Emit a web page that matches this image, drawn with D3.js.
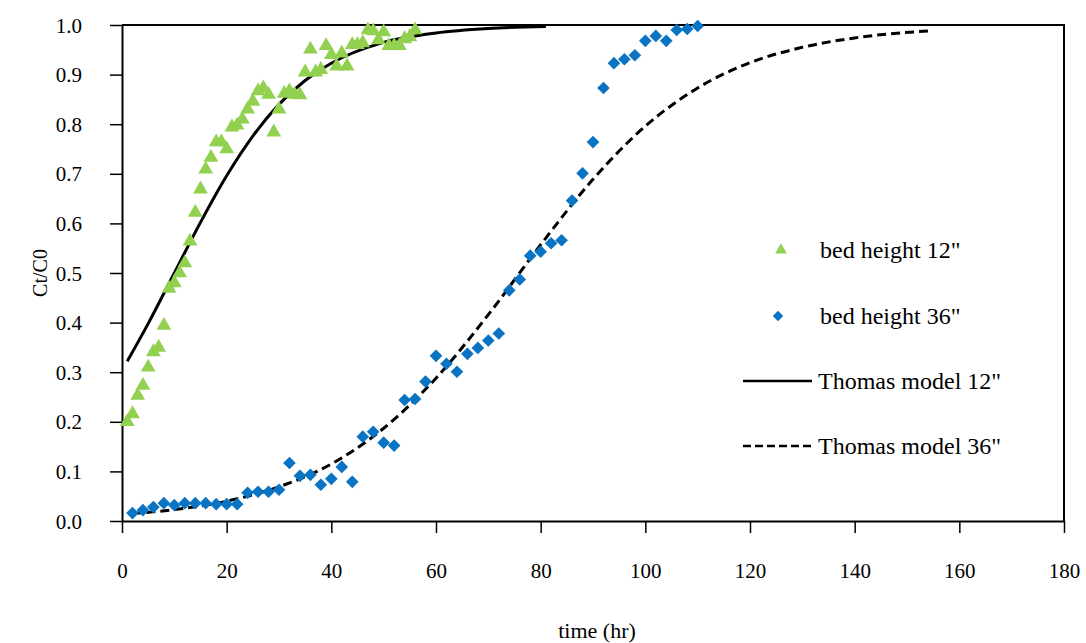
<!DOCTYPE html>
<html>
<head>
<meta charset="utf-8">
<script src="https://cdn.jsdelivr.net/npm/d3@7"></script>
<style>
  html, body { margin: 0; padding: 0; background: #fff; }
  svg { display: block; }
  text { font-family: "Liberation Serif", "Times New Roman", serif; fill: #000; }
</style>
</head>
<body>
<svg id="chart" width="1086" height="643"></svg>
<script>
// ---- Data ----
const time12 = [1,2,3,4,5,6,7,8,9,10,11,12,13,14,15,16,17,18,19,20,21,22,23,24,25,26,27,28,29,30,31,32,33,34,35,36,37,38,39,40,41,42,43,44,45,46,47,48,49,50,51,52,53,54,55,56];
const ratio12 = [0.20,0.216,0.253,0.273,0.31,0.341,0.35,0.394,0.469,0.48,0.50,0.52,0.564,0.622,0.669,0.709,0.733,0.764,0.764,0.75,0.794,0.798,0.81,0.83,0.846,0.867,0.873,0.86,0.784,0.83,0.862,0.867,0.86,0.859,0.905,0.951,0.905,0.91,0.958,0.94,0.917,0.943,0.917,0.96,0.96,0.964,0.99,0.988,0.97,0.986,0.958,0.958,0.958,0.972,0.976,0.99];

const time36 = [2,4,6,8,10,12,14,16,18,20,22,24,26,28,30,32,34,36,38,40,42,44,46,48,50,52,54,56,58,60,62,64,66,68,70,72,74,76,78,80,82,84,86,88,90,92,94,96,98,100,102,104,106,108,110];
const ratio36 = [0.016,0.022,0.028,0.036,0.032,0.036,0.036,0.036,0.034,0.034,0.034,0.057,0.059,0.059,0.063,0.117,0.091,0.093,0.073,0.085,0.109,0.079,0.17,0.18,0.158,0.152,0.244,0.246,0.281,0.333,0.317,0.301,0.337,0.349,0.364,0.378,0.465,0.487,0.535,0.543,0.56,0.566,0.646,0.701,0.764,0.873,0.923,0.931,0.939,0.968,0.978,0.968,0.99,0.992,0.998];

const modelTime12 = [1,5,10,15,20,25,30,35,40,50,60,70,81];
const modelRatio12 = [0.322,0.398,0.50,0.602,0.696,0.776,0.840,0.888,0.923,0.965,0.984,0.993,0.997];

const modelTime36 = [2,10,20,30,40,50,60,70,80,90,100,110,120,130,140,154];
const modelRatio36 = [0.015,0.023,0.040,0.069,0.115,0.187,0.288,0.416,0.557,0.689,0.796,0.873,0.924,0.955,0.974,0.988];

const xTicks = [0,20,40,60,80,100,120,140,160,180];
const yTicks = [0,0.1,0.2,0.3,0.4,0.5,0.6,0.7,0.8,0.9,1.0];

const legendLabels = ['bed height 12"', 'bed height 36"', 'Thomas model 12"', 'Thomas model 36"'];

// ---- Layout ----
const svg = d3.select("#chart");
const pL = 122, pR = 1064, pT = 25, pB = 521;
const green = "#92D050", blue = "#0A74C4";

const x = d3.scaleLinear().domain([0, 180]).range([pL, pR]);
const y = d3.scaleLinear().domain([0, 1]).range([pB, pT]);

// Frame (top & right borders)
svg.append("path")
  .attr("d", `M${pL},${pT}H${pR}V${pB}`)
  .attr("fill", "none").attr("stroke", "#000").attr("stroke-width", 2);

// X axis
const xAxis = svg.append("g").attr("transform", `translate(0,${pB})`)
  .call(d3.axisBottom(x).tickValues(xTicks).tickFormat(d3.format("d")).tickSize(12).tickSizeOuter(0));
xAxis.select(".domain").attr("stroke-width", 2);
xAxis.selectAll(".tick line").attr("stroke-width", 1.5);
xAxis.selectAll(".tick text").attr("font-size", 21).attr("font-family", "Liberation Serif").attr("dy", 0).attr("y", 57);

// Y axis
const yAxis = svg.append("g").attr("transform", `translate(${pL},0)`)
  .call(d3.axisLeft(y).tickValues(yTicks).tickFormat(d3.format(".1f")).tickSize(12).tickSizeOuter(0));
yAxis.select(".domain").attr("stroke-width", 2);
yAxis.selectAll(".tick line").attr("stroke-width", 1.5);
yAxis.selectAll(".tick text").attr("font-size", 21).attr("font-family", "Liberation Serif").attr("x", -40).attr("dy", "0.34em");

// Axis titles
svg.append("text").attr("x", 597).attr("y", 638).attr("text-anchor", "middle")
  .attr("font-size", 22).text("time (hr)");
svg.append("text").attr("transform", `translate(47,${(pT + pB) / 2}) rotate(-90)`)
  .attr("text-anchor", "middle").attr("font-size", 20).text("Ct/C0");

// Model lines
const line = d3.line().x(d => x(d[0])).y(d => y(d[1])).curve(d3.curveMonotoneX);
svg.append("path").datum(d3.zip(modelTime12, modelRatio12))
  .attr("d", line).attr("fill", "none").attr("stroke", "#000").attr("stroke-width", 3);
svg.append("path").datum(d3.zip(modelTime36, modelRatio36))
  .attr("d", line).attr("fill", "none").attr("stroke", "#000").attr("stroke-width", 3)
  .attr("stroke-dasharray", "9,5");

// Markers
const tri = d3.symbol().type(d3.symbolTriangle).size(95);
const dia = d3.symbol().type(d3.symbolSquare).size(80);

svg.append("g").selectAll("path").data(d3.zip(time36, ratio36)).join("path")
  .attr("d", dia)
  .attr("transform", d => `translate(${x(d[0])},${y(d[1])}) rotate(45)`)
  .attr("fill", blue);

svg.append("g").selectAll("path").data(d3.zip(time12, ratio12)).join("path")
  .attr("d", tri)
  .attr("transform", d => `translate(${x(d[0])},${y(d[1])})`)
  .attr("fill", green);

// Legend
const lg = svg.append("g");
const lx = 743, tx = 820;
const rows = [250, 316, 381, 446];
lg.append("path").attr("d", d3.symbol().type(d3.symbolTriangle).size(60))
  .attr("transform", `translate(781,${rows[0]})`).attr("fill", green);
lg.append("path").attr("d", d3.symbol().type(d3.symbolSquare).size(55))
  .attr("transform", `translate(778,${rows[1]}) rotate(45)`).attr("fill", blue);
lg.append("line").attr("x1", lx).attr("x2", 812).attr("y1", rows[2]).attr("y2", rows[2])
  .attr("stroke", "#000").attr("stroke-width", 2.5);
lg.append("line").attr("x1", lx).attr("x2", 812).attr("y1", rows[3]).attr("y2", rows[3])
  .attr("stroke", "#000").attr("stroke-width", 2.5).attr("stroke-dasharray", "8,4");
legendLabels.forEach((t, i) => {
  lg.append("text").attr("x", i < 2 ? tx : 818).attr("y", rows[i]).attr("dy", "0.33em")
    .attr("font-size", 24).text(t);
});
</script>
</body>
</html>
